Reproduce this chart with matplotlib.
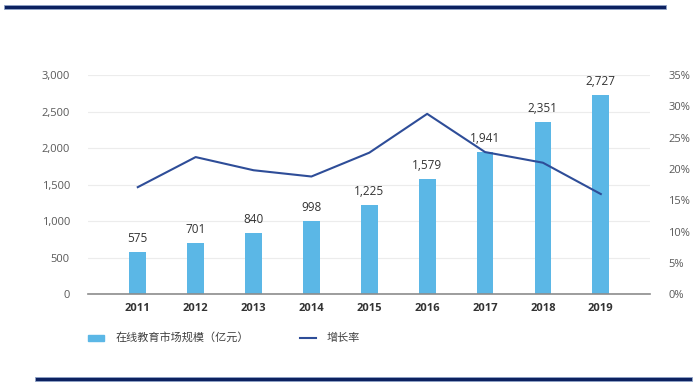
import matplotlib
matplotlib.use("Agg")
import matplotlib.pyplot as plt
from matplotlib.ticker import FuncFormatter
from matplotlib.patches import Rectangle
from matplotlib.lines import Line2D

plt.rcParams['font.family'] = ['Open Sans', 'Noto Sans CJK SC', 'DejaVu Sans']

years = ['2011', '2012', '2013', '2014', '2015', '2016', '2017', '2018', '2019']
market = [575, 701, 840, 998, 1225, 1579, 1941, 2351, 2727]
growth = [17.1, 21.9, 19.8, 18.8, 22.6, 28.8, 22.7, 21.0, 16.0]
bar_label = '在线教育市场规模（亿元）'
line_label = '增长率'

bar_color = '#5bb7e6'
line_color = '#2e4d98'
tick_color = '#595959'

fig = plt.figure(figsize=(7, 3.84), dpi=100)
ax = fig.add_axes([88/700, 1-294.3/384, (650-88)/700, (294.3-75)/384])
x = list(range(len(years)))
ax.bar(x, market, width=0.29, color=bar_color, zorder=2)
ax.set_ylim(0, 3000)
ax.set_xlim(-0.86, 8.85)
ax.set_yticks(range(0, 3001, 500))
ax.yaxis.set_major_formatter(FuncFormatter(lambda v, p: f'{int(v):,}'))
ax.grid(axis='y', color='#ececec', linewidth=0.8, zorder=0)
for s in ['top', 'right', 'left']:
    ax.spines[s].set_visible(False)
ax.spines['bottom'].set_color('#8c8c8c')
ax.spines['bottom'].set_linewidth(1.2)
ax.set_xticks(x)
ax.set_xticklabels(years, fontweight='bold', color='#333333', fontsize=8)
ax.tick_params(axis='x', length=0, pad=6)
ax.tick_params(axis='y', length=0, labelcolor=tick_color, labelsize=8, pad=13)
for xi, v in zip(x, market):
    ax.annotate(f'{v:,}', (xi, v), xytext=(0, 5), textcoords='offset points',
                ha='center', va='bottom', fontsize=8.5, color='#333333')

ax2 = ax.twinx()
ax2.plot(x, growth, color=line_color, linewidth=1.5, zorder=3)
ax2.set_ylim(0, 35)
ax2.set_yticks(range(0, 36, 5))
ax2.yaxis.set_major_formatter(FuncFormatter(lambda v, p: f'{int(v)}%'))
for s in ['top', 'right', 'left', 'bottom']:
    ax2.spines[s].set_visible(False)
ax2.tick_params(axis='y', length=0, labelcolor=tick_color, labelsize=8, pad=13)

# legend
fig.patches.append(Rectangle((88/700, 1-341/384), 16/700, 6/384, transform=fig.transFigure,
                             color=bar_color, figure=fig))
fig.text(116/700, 1-338/384, bar_label, fontsize=8, color='#404040', va='center', ha='left')
fig.lines.append(Line2D([300/700, 316/700], [1-338/384, 1-338/384], transform=fig.transFigure,
                        color=line_color, linewidth=1.5, figure=fig))
fig.text(327/700, 1-338/384, line_label, fontsize=8, color='#404040', va='center', ha='left')

# decorative rules
fig.patches.append(Rectangle((4/700, 1-9/384), 662/700, 4/384, transform=fig.transFigure,
                             facecolor='#0c2160', edgecolor='#8fa3c8', linewidth=0.6, figure=fig))
fig.patches.append(Rectangle((35/700, 1-381/384), 657/700, 4/384, transform=fig.transFigure,
                             facecolor='#0c2160', edgecolor='#8fa3c8', linewidth=0.6, figure=fig))

fig.savefig('out.png', dpi=100)
